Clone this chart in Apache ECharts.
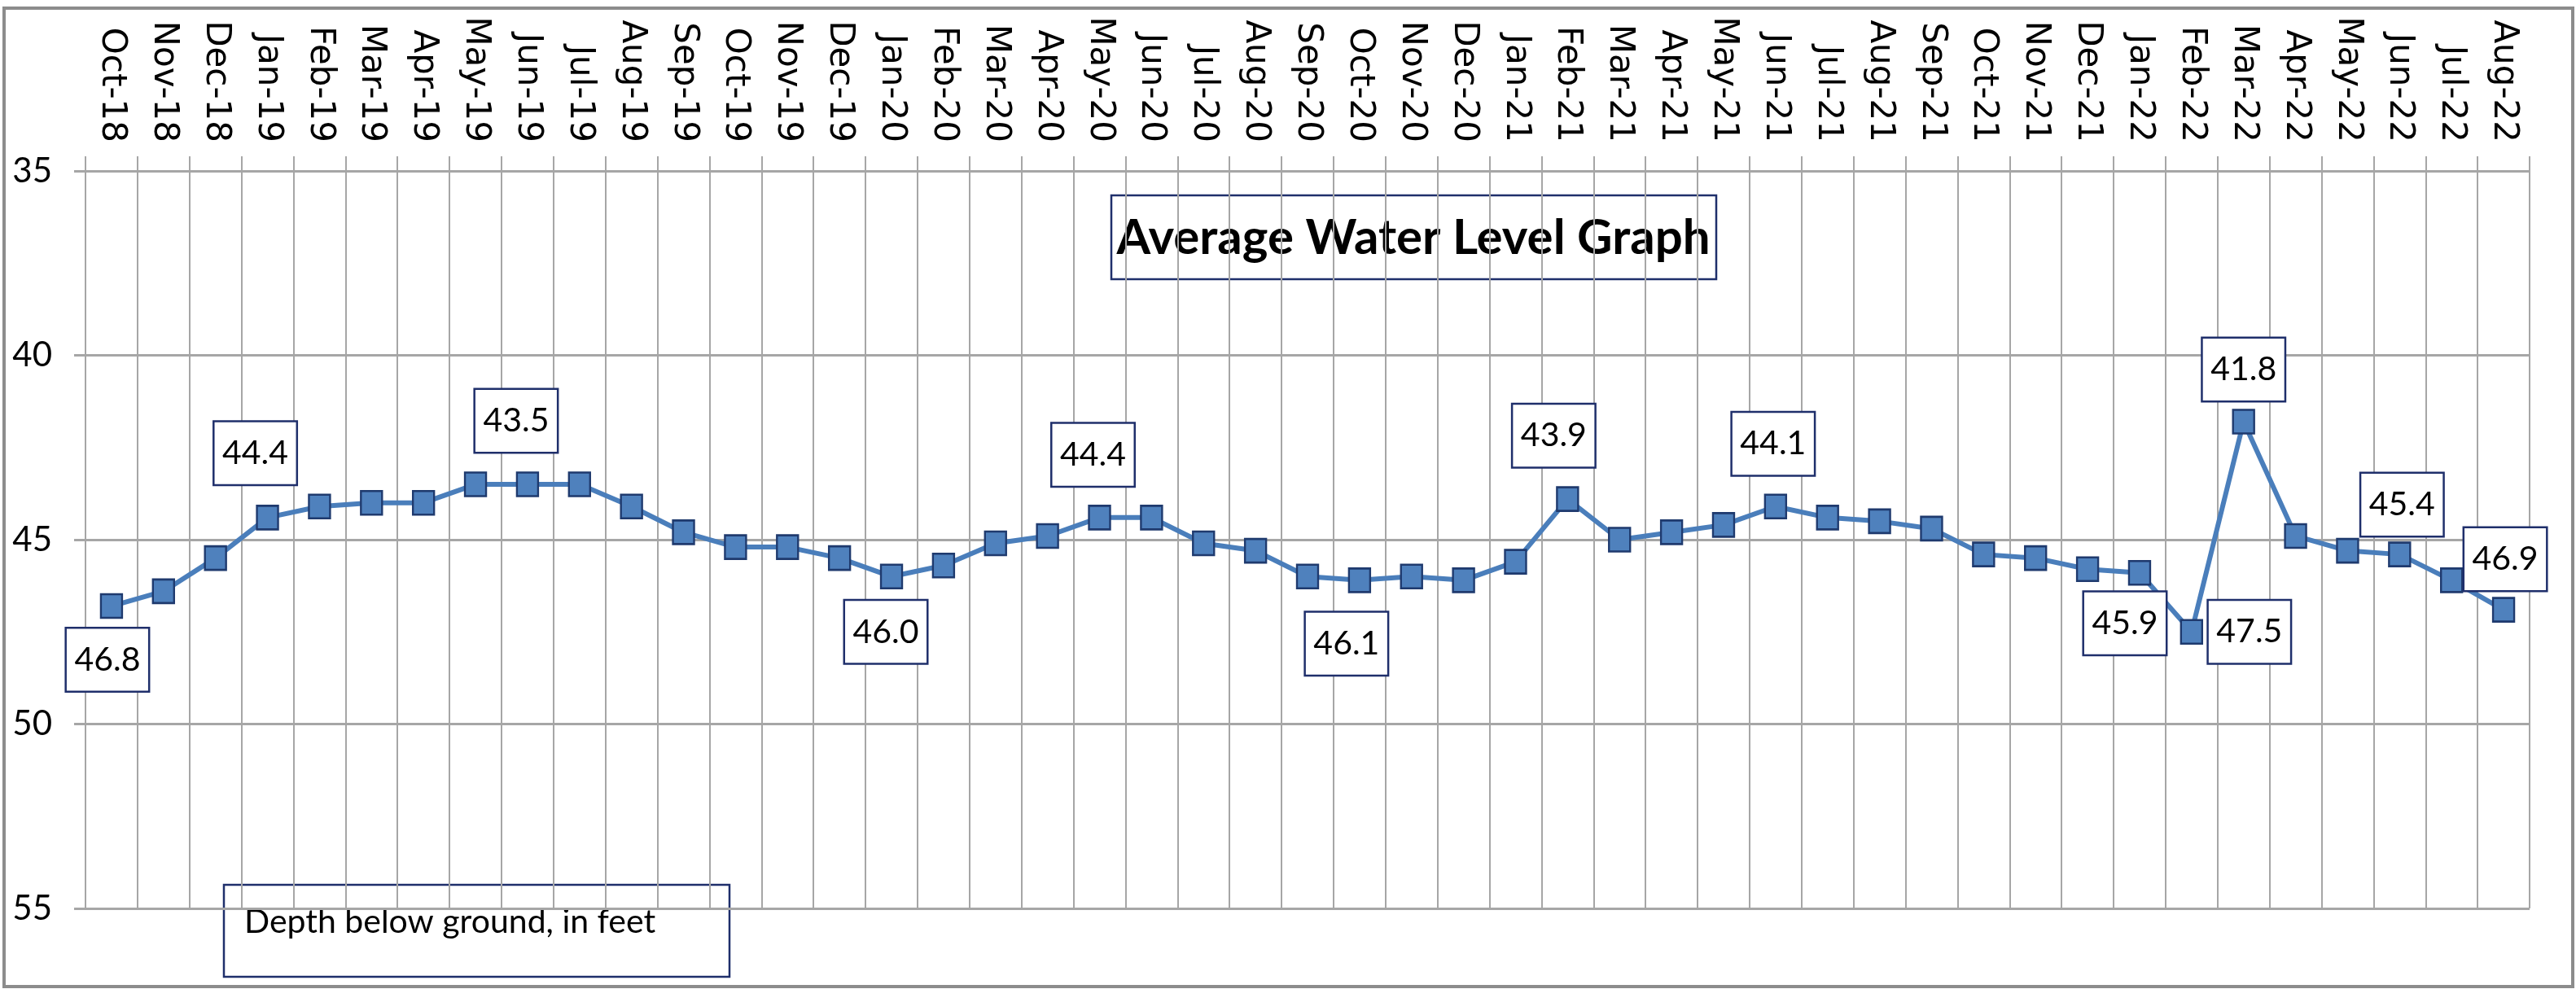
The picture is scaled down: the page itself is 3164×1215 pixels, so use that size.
<!DOCTYPE html>
<html>
<head>
<meta charset="utf-8">
<script src="https://cdn.jsdelivr.net/npm/echarts@6/dist/echarts.min.js"></script>
<style>
  html, body { margin: 0; padding: 0; background: #fff; }
  #main { width: 3164px; height: 1215px; }
</style>
</head>
<body>
<div id="main"></div>
<script>
const months = ['Oct-18','Nov-18','Dec-18',
  'Jan-19','Feb-19','Mar-19','Apr-19','May-19','Jun-19','Jul-19','Aug-19','Sep-19','Oct-19','Nov-19','Dec-19',
  'Jan-20','Feb-20','Mar-20','Apr-20','May-20','Jun-20','Jul-20','Aug-20','Sep-20','Oct-20','Nov-20','Dec-20',
  'Jan-21','Feb-21','Mar-21','Apr-21','May-21','Jun-21','Jul-21','Aug-21','Sep-21','Oct-21','Nov-21','Dec-21',
  'Jan-22','Feb-22','Mar-22','Apr-22','May-22','Jun-22','Jul-22','Aug-22'];

// depth below ground, feet
const depth = [46.8, 46.4, 45.5,
  44.4, 44.1, 44.0, 44.0, 43.5, 43.5, 43.5, 44.1, 44.8, 45.2, 45.2, 45.5,
  46.0, 45.7, 45.1, 44.9, 44.4, 44.4, 45.1, 45.3, 46.0, 46.1, 46.0, 46.1,
  45.6, 43.9, 45.0, 44.8, 44.6, 44.1, 44.4, 44.5, 44.7, 45.4, 45.5, 45.8,
  45.9, 47.5, 41.8, 44.9, 45.3, 45.4, 46.1, 46.9];

const yTicks = [35, 40, 45, 50, 55];

// months that carry a value box
const labeledMonths = ['Oct-18','Jan-19','Jun-19','Jan-20','May-20','Oct-20','Feb-21','Jun-21','Jan-22','Feb-22','Mar-22','Jun-22','Aug-22'];
// where each box sits relative to its marker (px)
const labelOffsets = [[-5,66],[-15,-79],[-14,-78],[-7,68],[-8,-77],[-16,78],[-17,-78],[-3,-77],[-18,62],[71,0],[0,-64],[3,-61],[2,-62]];

const gridColor = '#a6a6a6';
const navy = '#1f2f6b';
const calib = "Lato, 'Open Sans', sans-serif";

let seriesData = depth.map(function(v, i){
    if(labeledMonths.indexOf(months[i]) < 0) return v;
    return {
        value: v,
        label: {
            show: true,
            position: 'inside',
            formatter: function(p){ return p.value.toFixed(1); },
            fontFamily: calib,
            fontSize: 41,
            color: '#000',
            backgroundColor: '#fff',
            borderColor: navy,
            borderWidth: 2.5,
            width: 72,
            height: 44,
            lineHeight: 44,
            align: 'center',
            verticalAlign: 'middle',
            padding: [16, 14]
        }
    };
});

let chartDom = document.getElementById('main');
let myChart = echarts.init(chartDom);
let option = {
    animation: false,
    backgroundColor: '#fff',
    grid: { left: 105, right: 57, top: 210, bottom: 99 },
    xAxis: {
        type: 'category',
        position: 'top',
        data: months,
        axisLine: { lineStyle: { color: gridColor, width: 2 } },
        axisTick: { show: true, interval: 0, length: 18, lineStyle: { color: gridColor, width: 2 } },
        axisLabel: { interval: 0, rotate: 90, margin: 35, fontFamily: 'DejaVu Sans', fontSize: 42, color: '#000' },
        splitLine: { show: true, interval: 0, lineStyle: { color: gridColor, width: 2 } }
    },
    yAxis: {
        type: 'value',
        inverse: true,
        min: yTicks[0],
        max: yTicks[yTicks.length - 1],
        interval: 5,
        axisLine: { show: true, lineStyle: { color: gridColor, width: 2 } },
        axisTick: { show: true, length: 14, lineStyle: { color: gridColor, width: 3 } },
        axisLabel: { margin: 41, fontFamily: calib, fontSize: 42, color: '#000' },
        splitLine: { show: true, lineStyle: { color: gridColor, width: 3 } }
    },
    series: [{
        type: 'line',
        data: seriesData,
        symbol: 'rect',
        symbolSize: [26, 29],
        lineStyle: { color: '#4a7ebb', width: 6 },
        itemStyle: { color: '#4f81bd', borderColor: '#1f3a6e', borderWidth: 2.5 },
        labelLayout: function(params){
            let k = labeledMonths.indexOf(months[params.dataIndex]);
            if(k < 0) return {};
            return { dx: labelOffsets[k][0], dy: labelOffsets[k][1], hideOverlap: false };
        },
        z: 3
    }],
    graphic: [
        {
            type: 'rect', z: 0, silent: true,
            shape: { x: 5, y: 10, width: 3155, height: 1202 },
            style: { fill: null, stroke: '#8c8c8c', lineWidth: 4 }
        },
        {
            type: 'group', z: 10,
            children: [
                { type: 'rect', shape: { x: 1365, y: 240, width: 743, height: 103 },
                  style: { fill: '#fff', stroke: navy, lineWidth: 2.5 } },
                { type: 'text', x: 1736, y: 293,
                  style: { text: 'Average Water Level Graph', fill: '#000', font: 'bold 60px ' + calib,
                           textAlign: 'center', textVerticalAlign: 'middle' } }
            ]
        },
        {
            type: 'group', z: 10,
            children: [
                { type: 'rect', shape: { x: 275, y: 1087, width: 621, height: 113 },
                  style: { fill: '#fff', stroke: navy, lineWidth: 2.5 } },
                { type: 'text', x: 300, y: 1133,
                  style: { text: 'Depth below ground, in feet', fill: '#000', font: '41px ' + calib,
                           textAlign: 'left', textVerticalAlign: 'middle' } }
            ]
        }
    ]
};
myChart.setOption(option);

window.addEventListener('resize', function(){
    myChart.resize();
});
</script>
</body>
</html>
